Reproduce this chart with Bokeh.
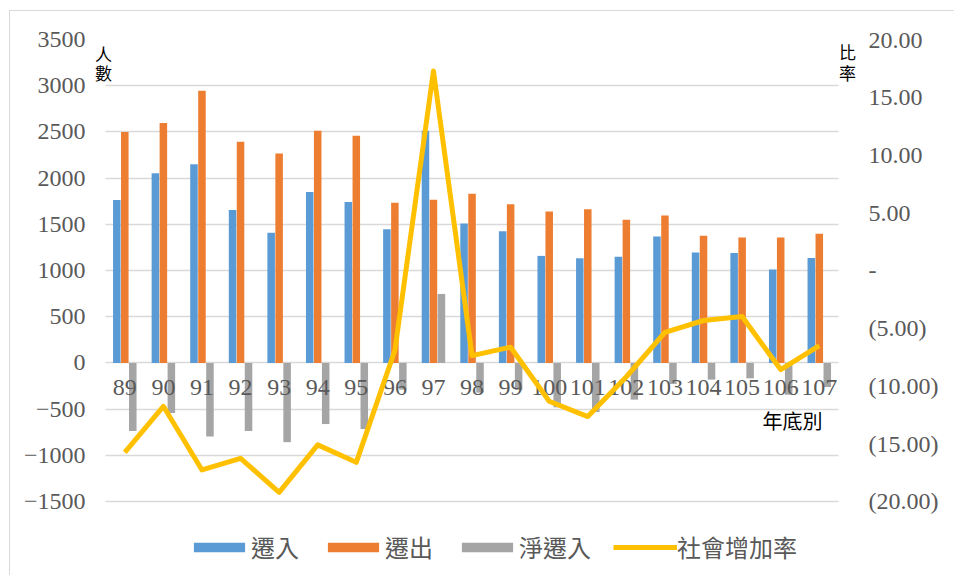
from bokeh.plotting import figure
from bokeh.models import (Range1d, LinearAxis, FixedTicker, Legend,
                          LegendItem, Label, ColumnDataSource)
from bokeh.transform import dodge
from bokeh.core.properties import value
from bokeh.embed import file_html
from bokeh.resources import INLINE

# ---- data ----
years = ["89", "90", "91", "92", "93", "94", "95", "96", "97", "98",
         "99", "100", "101", "102", "103", "104", "105", "106", "107"]
move_in = [1763, 2053, 2150, 1655, 1408, 1850, 1741, 1445, 2512, 1509,
           1425, 1158, 1132, 1150, 1367, 1194, 1190, 1012, 1136]
move_out = [2500, 2595, 2946, 2392, 2266, 2512, 2457, 1734, 1766, 1831,
            1718, 1639, 1664, 1548, 1595, 1375, 1357, 1357, 1398]
net_in = [-737, -542, -796, -737, -858, -662, -716, -289, 746, -322,
          -293, -481, -532, -398, -228, -181, -167, -345, -262]
rate = [-15.74, -11.76, -17.27, -16.26, -19.21, -15.10, -16.61, -6.93, 17.27, -7.37,
        -6.64, -11.32, -12.65, -9.20, -5.35, -4.33, -3.99, -8.58, -6.50]

left_ticks = [-1500, -1000, -500, 0, 500, 1000, 1500, 2000, 2500, 3000, 3500]
right_ticks = [-20, -15, -10, -5, 0, 5, 10, 15, 20]
series_names = ["遷入", "遷出", "淨遷入", "社會增加率"]

def fmt_rate(v):
    if v == 0:
        return "-"
    if v < 0:
        return "(%.2f)" % (-v)
    return "%.2f" % v

right_labels = {t: fmt_rate(t) for t in right_ticks}

n = len(years)
# category slot centres on a numeric axis (slot i spans i..i+1)
xpos = [i + 0.5 for i in range(n)]

src = ColumnDataSource(dict(x=xpos, year=years, move_in=move_in, move_out=move_out,
                            net_in=net_in, rate=rate))

# ranges: left -1500..3500 maps onto right -20..20
L_MIN = -2312
L_MAX = 3500
R_MIN = (L_MIN + 1500) * 0.008 - 20
R_MAX = 20
PAD_L = 0.363
PAD_R = 0.62

p = figure(x_range=Range1d(-PAD_L, n + PAD_R),
           y_range=Range1d(L_MIN, L_MAX),
           width=945, height=565,
           min_border_left=81, min_border_right=93,
           min_border_top=28, min_border_bottom=0,
           output_backend="svg", toolbar_location=None)
p.extra_y_ranges = {"rate": Range1d(R_MIN, R_MAX)}
p.outline_line_color = None
p.background_fill_color = "white"
p.border_fill_color = "white"
p.styles = {"margin-left": "9px", "margin-top": "10px",
            "border-left": "1px solid #D9D9D9", "border-top": "1px solid #D9D9D9"}

p.xaxis.visible = False
p.xgrid.visible = False

yax = p.yaxis[0]
yax.ticker = FixedTicker(ticks=left_ticks)
yax.axis_line_color = None
yax.major_tick_line_color = None
yax.minor_tick_line_color = None
yax.major_label_text_font = "Liberation Serif"
yax.major_label_text_font_size = "24px"
yax.major_label_text_color = "#595959"
yax.major_label_standoff = 0

p.ygrid.ticker = FixedTicker(ticks=left_ticks)
p.ygrid.grid_line_color = "#D9D9D9"
p.ygrid.grid_line_width = 1.5
p.ygrid.cross_bounds = (0, n)

rax = LinearAxis(y_range_name="rate", ticker=FixedTicker(ticks=right_ticks),
                 major_label_overrides=right_labels)
rax.axis_line_color = None
rax.major_tick_line_color = None
rax.minor_tick_line_color = None
rax.major_label_text_font = "Liberation Serif"
rax.major_label_text_font_size = "24px"
rax.major_label_text_color = "#595959"
rax.major_label_standoff = 0
p.add_layout(rax, "right")

bw = 0.195
r_in = p.vbar(x=dodge("x", -0.207), top="move_in", width=bw,
              source=src, fill_color="#5B9BD5", line_color=None)
r_out = p.vbar(x=dodge("x", 0.0), top="move_out", width=bw,
               source=src, fill_color="#ED7D31", line_color=None)
r_net = p.vbar(x=dodge("x", 0.207), top="net_in", width=bw,
               source=src, fill_color="#A5A5A5", line_color=None)

# category labels sitting just under the zero line
p.text(x="x", y=0, text="year", source=src,
       text_font=value("Liberation Serif"), text_font_size="24px",
       text_color="#595959", text_align="center", text_baseline="middle",
       y_offset=25)

r_rate = p.line(x="x", y="rate", y_range_name="rate", source=src,
                line_color="#FFC000", line_width=5, line_join="round")

cjk = "Noto Sans CJK TC"
for txt, yv in (("人", 3344), ("數", 3144)):
    p.add_layout(Label(x=0, y=yv, text=txt, x_offset=-2, text_align="center",
                       text_baseline="middle", text_font=cjk,
                       text_font_size="17px", text_color="black"))
for txt, yv in (("比", 3366), ("率", 3139)):
    p.add_layout(Label(x=n, y=yv, text=txt, x_offset=9, text_align="center",
                       text_baseline="middle", text_font=cjk,
                       text_font_size="17px", text_color="black"))
p.add_layout(Label(x=n, y=-628, text="年底別", x_offset=-16,
                   text_align="right", text_baseline="middle", text_font=cjk,
                   text_font_size="20px", text_color="black"))

legend = Legend(items=[LegendItem(label=series_names[0], renderers=[r_in]),
                       LegendItem(label=series_names[1], renderers=[r_out]),
                       LegendItem(label=series_names[2], renderers=[r_net]),
                       LegendItem(label=series_names[3], renderers=[r_rate])],
                location=(96, 12), orientation="horizontal",
                glyph_width=64, glyph_height=12, label_height=24,
                label_standoff=0, spacing=22, padding=0, margin=0,
                border_line_color=None, background_fill_alpha=0,
                label_text_font=cjk, label_text_font_size="24px",
                label_text_color="#595959")
p.add_layout(legend)

open("out.html", "w").write(file_html(p, INLINE))
